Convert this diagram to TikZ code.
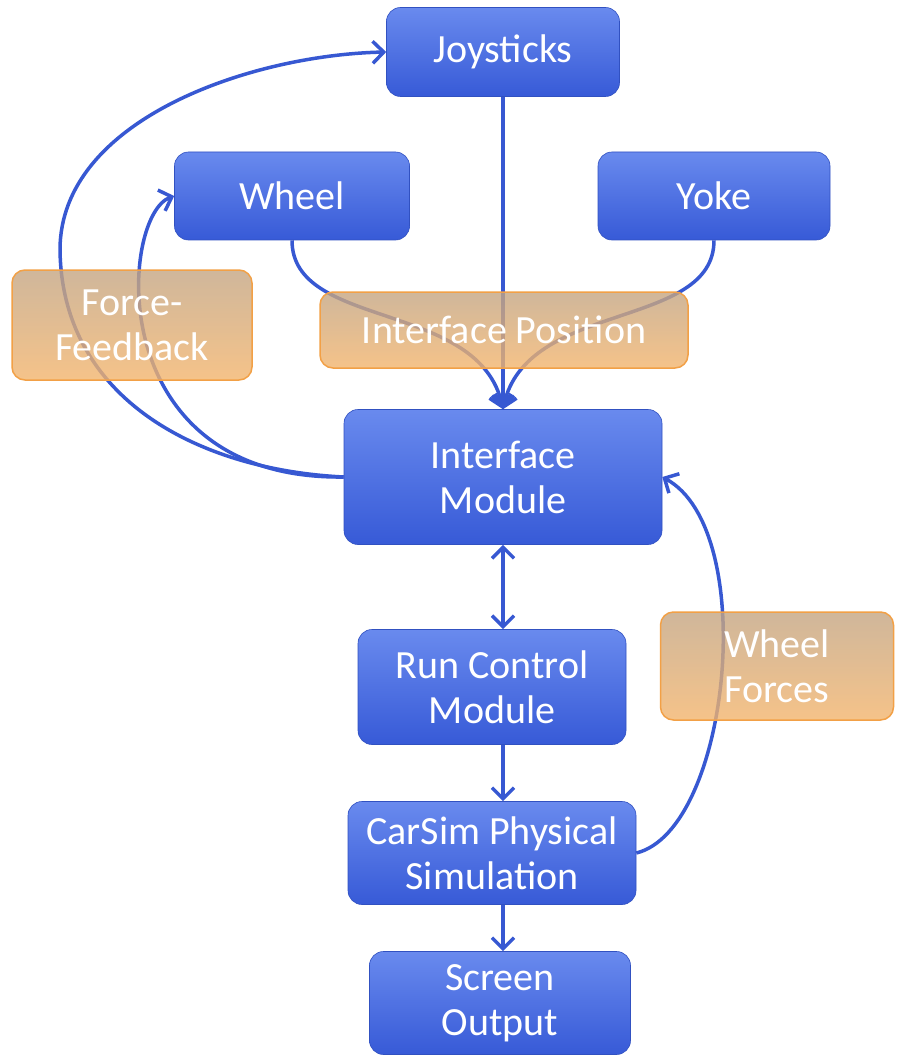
\documentclass[tikz,border=0pt]{standalone}
\usepackage{fontspec}
\setmainfont{Carlito}
\usetikzlibrary{arrows.meta}
\definecolor{bluetop}{RGB}{105,138,238}
\definecolor{bluebot}{RGB}{55,90,215}
\definecolor{lineblue}{RGB}{55,88,210}
\definecolor{orgtop}{RGB}{196,165,130}
\definecolor{orgbot}{RGB}{243,180,108}
\definecolor{orgline}{RGB}{242,160,70}
\tikzset{
  bluebox/.style={rounded corners=14pt, top color=bluetop, bottom color=bluebot,
    draw=bluebot!90!black, line width=0.6pt, text=white, align=center,
    font=\fontsize{40}{45}\selectfont, inner sep=0pt},
  orgbox/.style={rounded corners=13pt, top color=orgtop, bottom color=orgbot,
    fill opacity=0.8, text opacity=1, draw=orgline, line width=1.5pt,
    text=white, align=center, font=\fontsize{40}{45}\selectfont, inner sep=0pt},
  tipb/.tip={Straight Barb[length=11pt,width=22pt,line width=3.5pt]},
  conn/.style={draw=lineblue, line width=3.5pt, -tipb},
  dconn/.style={draw=lineblue, line width=3.5pt, tipb-tipb}
}
\begin{document}
\begin{tikzpicture}[x=1pt,y=-1pt]
\useasboundingbox[fill=white] (0,0) rectangle (896,1059);
% blue boxes
\node[bluebox, minimum width=233pt, minimum height=89pt] (joy) at (503,52) {Joysticks};
\node[bluebox, minimum width=235pt, minimum height=88pt] (wheel) at (292,196) {Wheel};
\node[bluebox, minimum width=232pt, minimum height=88pt] (yoke) at (714,196) {Yoke};
\node[bluebox, minimum width=318pt, minimum height=135pt] (im) at (503,477) {Interface\\Module};
\node[bluebox, minimum width=268pt, minimum height=115pt] (rc) at (492,687) {Run Control\\Module};
\node[bluebox, minimum width=288pt, minimum height=103pt] (cs) at (492,853) {CarSim Physical\\Simulation};
\node[bluebox, minimum width=261pt, minimum height=103pt] (so) at (500,1003) {Screen\\Output};
% connectors
\draw[conn] (joy.south) -- (im.north);
\draw[conn] (wheel.south) .. controls (292,330) and (480,300) .. (im.north);
\draw[conn] (yoke.south) .. controls (714,330) and (526,300) .. (im.north);
\draw[conn] (im.west) .. controls (100,480) and (120,215) .. (wheel.west);
\draw[conn] (im.west) .. controls (200,470) and (62,400) .. (60,250)
   .. controls (60,120) and (250,55) .. (joy.west);
\draw[dconn] (im.south) -- (im.south |- rc.north);
\draw[conn] (im.south |- rc.south) -- (im.south |- cs.north);
\draw[conn] (cs.east) .. controls (730,830) and (760,530) .. (im.east);
\draw[conn] (im.south |- cs.south) -- (im.south |- so.north);
% orange labels
\node[orgbox, minimum width=240pt, minimum height=110pt] (ff) at (132,325) {Force-\\Feedback};
\node[orgbox, minimum width=368pt, minimum height=76pt] (ip) at (504,330) {Interface Position};
\node[orgbox, minimum width=233pt, minimum height=108pt] (wf) at (777,666) {Wheel\\Forces};
\end{tikzpicture}
\end{document}
